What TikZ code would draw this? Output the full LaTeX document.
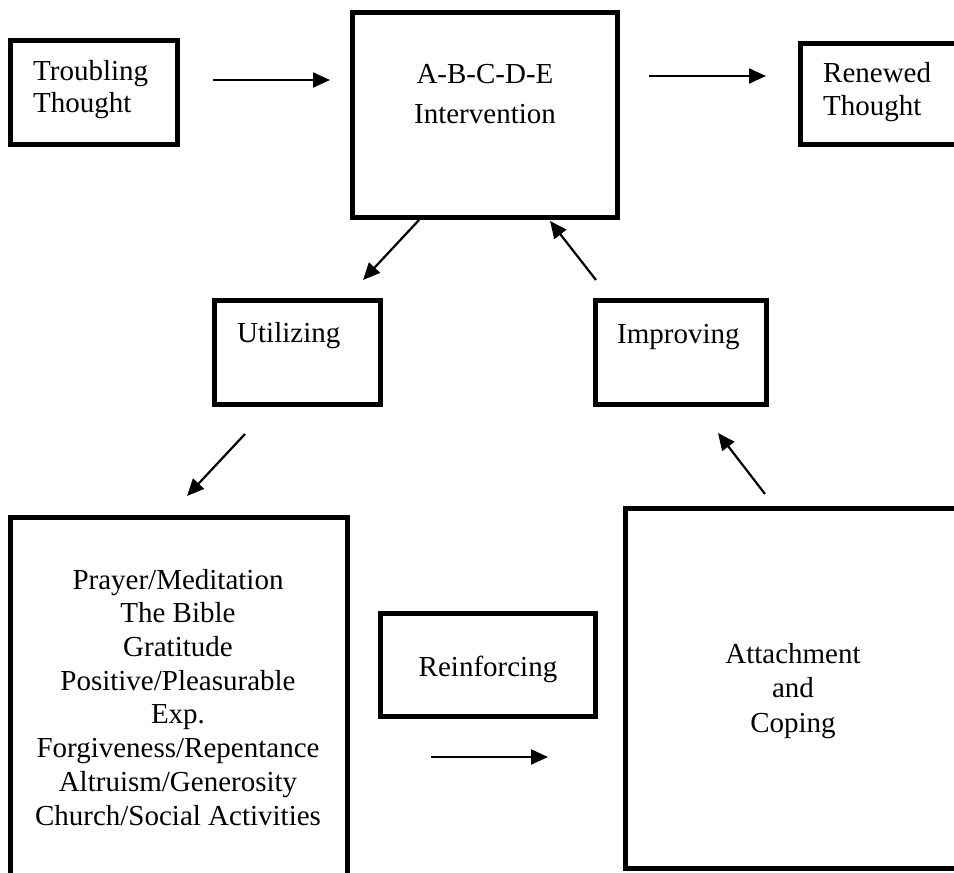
\documentclass[tikz,border=0pt]{standalone}
\usepackage{fontspec}
\setmainfont{Liberation Serif}
\usetikzlibrary{arrows.meta}
\begin{document}
\begin{tikzpicture}[x=1pt,y=-1pt,
  boxnode/.style={draw=black,line width=5pt,inner sep=0pt,fill=none},
  txt/.style={inner sep=0pt,font=\fontsize{29}{33.7}\selectfont},
  arr/.style={line width=2.2pt,-{Triangle[length=17pt,width=15pt]}}]
\useasboundingbox (0,0) rectangle (954,873);
% boxes
\node[boxnode,minimum width=167pt,minimum height=104pt] (tt) at (94,92.5) {};
\node[boxnode,minimum width=265pt,minimum height=205pt] (abcde) at (485,115) {};
\node[boxnode,minimum width=167pt,minimum height=101pt] (rt) at (884,94) {};
\node[boxnode,minimum width=166pt,minimum height=104pt] (ut) at (297.5,352.5) {};
\node[boxnode,minimum width=171pt,minimum height=104pt] (im) at (681,352.5) {};
\node[boxnode,minimum width=215pt,minimum height=103pt] (re) at (488,665) {};
\node[boxnode,minimum width=337pt,minimum height=382.5pt] (li) at (179,708.75) {};
\node[boxnode,minimum width=374.5pt,minimum height=360pt] (at) at (812.75,688.5) {};
% texts (base anchor = baseline of last line)
\node[txt,anchor=base west,align=left,font=\fontsize{29}{32}\selectfont] (tttext) at (33,112) {Troubling\\Thought};
\node[txt,anchor=base,align=center,font=\fontsize{29}{40}\selectfont] (abtext) at (485,123) {A-B-C-D-E\\Intervention};
\node[txt,anchor=base west,align=left,font=\fontsize{29}{33}\selectfont] (rttext) at (823,115) {Renewed\\Thought};
\node[txt,anchor=base west] (uttext) at (237,342) {Utilizing};
\node[txt,anchor=base west] (imtext) at (617,343) {Improving};
\node[txt,anchor=base] (retext) at (488,676) {Reinforcing};
\node[txt,anchor=base,align=center] (litext) at (178,825) {Prayer/Meditation\\The Bible\\Gratitude\\Positive/Pleasurable\\Exp.\\Forgiveness/Repentance\\Altruism/Generosity\\Church/Social Activities};
\node[txt,anchor=base,align=center,font=\fontsize{29}{34.5}\selectfont] (attext) at (793,732) {Attachment\\and\\Coping};
% arrows
\draw[arr,shorten <=33pt,shorten >=20pt] ([yshift=12.5pt]tt.east) -- ([yshift=35pt]abcde.west);
\draw[arr,shorten <=29pt,shorten >=32pt] ([yshift=39pt]abcde.east) -- ([yshift=18pt]rt.west);
\draw[arr] ([xshift=-66pt]abcde.south) -- ([xshift=65.5pt,yshift=18pt]ut.north);
\draw[arr] ([xshift=-85pt,yshift=18pt]im.north) -- ([xshift=65pt,yshift=-1pt]abcde.south);
\draw[arr] ([xshift=-52.5pt,yshift=-27pt]ut.south) -- ([xshift=8pt,yshift=19pt]li.north);
\draw[arr,shorten <=81pt,shorten >=75pt] ([yshift=-48.25pt]li.east) -- ([yshift=-68.5pt]at.west);
\draw[arr] ([xshift=-47.75pt,yshift=12pt]at.north) -- ([xshift=37pt,yshift=-26pt]im.south);
\end{tikzpicture}
\end{document}
